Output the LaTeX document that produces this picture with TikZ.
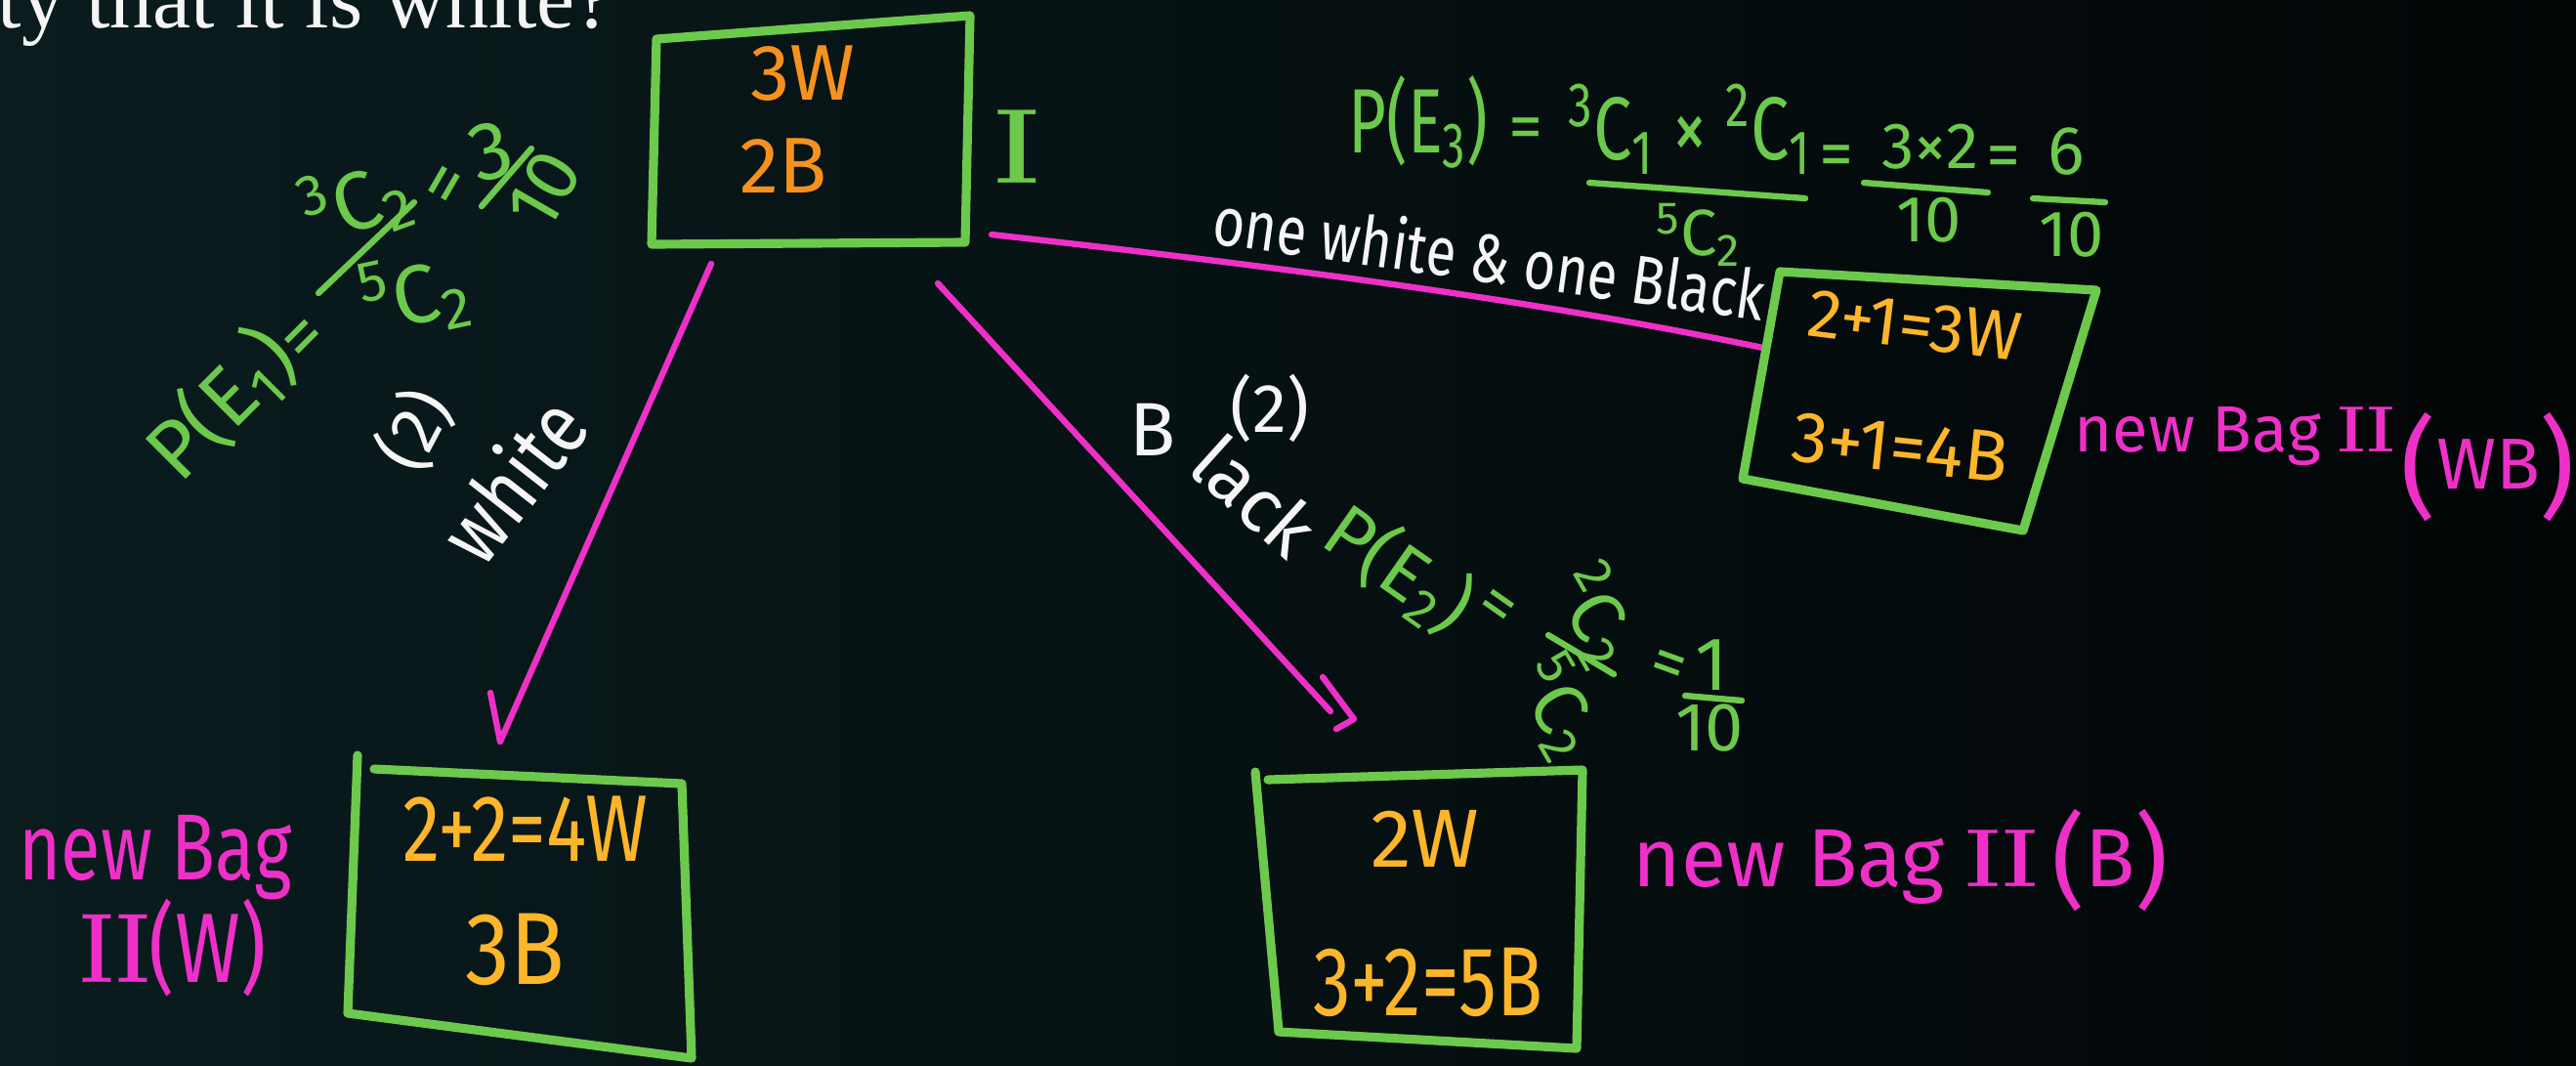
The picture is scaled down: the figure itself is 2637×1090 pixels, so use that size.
\documentclass[tikz,border=0pt]{standalone}
\usepackage{fontspec}
\usepackage{graphicx}
\newfontfamily\hand{Fira Sans}
\newfontfamily\qfont{Liberation Serif}
\newcommand\fsz[1]{\fontsize{#1}{#1}\selectfont}
\newcommand\vst[2][1.25]{\scalebox{1}[#1]{#2}}
\newcommand\rnum[1]{{\rmfamily\bfseries #1}}
\definecolor{hgreen}{RGB}{108,201,76}
\definecolor{hpink}{RGB}{238,48,200}
\definecolor{horange}{RGB}{247,145,30}
\definecolor{hyellow}{RGB}{253,182,42}
\definecolor{hwhite}{RGB}{245,245,245}
\definecolor{bgL}{RGB}{10,28,30}
\definecolor{bgR}{RGB}{2,5,6}
\begin{document}
\begin{tikzpicture}[x=0.01cm,y=-0.01cm,
  boxline/.style={draw=hgreen,line width=2.6pt,line join=round,line cap=round},
  link/.style={draw=hpink,line width=1.8pt,line cap=round,line join=round},
  fbar/.style={draw=hgreen,line width=1.8pt,line cap=round},
  lbl/.style={inner sep=0pt,text=#1}]
\useasboundingbox (0,0) rectangle (2637,1090);
\fill[left color=bgL,right color=bgR] (0,0) rectangle (2637,1090);

% question fragment at top
\node[lbl=hwhite,anchor=base west,font=\qfont\fsz{25}] (q) at (-3,28) {ty that it is white?};

% Bag I
\draw[boxline] (672,40) -- (993,16) -- (988,248) -- (667,250) -- cycle;
\node[lbl=horange,font=\hand\fsz{23}] (b1w) at (822,75) {3W};
\node[lbl=horange,font=\hand\fsz{23}] (b1b) at (802,170) {2B};
\node[lbl=hgreen,font=\fsz{31}] (b1lab) at (1041,150) {\rnum{I}};

% connectors
\coordinate (a1s) at (728,270);
\coordinate (a1e) at (512,759);
\coordinate (a1b) at (502,709);
\draw[link] (a1s) -- (a1e) -- (a1b);
\coordinate (a2s) at (960,290);
\coordinate (a2e) at (1362,728);
\coordinate (a2h1) at (1354,693);
\coordinate (a2h2) at (1386,736);
\coordinate (a2h3) at (1368,746);
\draw[link] (a2s) -- (a2e);
\draw[link] (a2h1) -- (a2h2) -- (a2h3);
\coordinate (l3s) at (1015,240);
\coordinate (l3e) at (1805,356);
\draw[link] (l3s) .. controls (1300,272) and (1560,305) .. (l3e);

% right bag II (WB)
\draw[boxline] (1822,278) -- (2146,297) -- (2071,543) -- (1784,490) -- cycle;
\node[lbl=hyellow,font=\hand\fsz{20},rotate=-7] (b2w) at (1960,333) {2+1=3W};
\node[lbl=hyellow,font=\hand\fsz{21},rotate=-6] (b2b) at (1945,458) {3+1=4B};
\node[lbl=hpink,anchor=base west,font=\hand\fsz{19}] (lab2) at (2123,462) {new Bag \rnum{II}};
\node[lbl=hpink,anchor=base,font=\hand\fsz{21}] (lab2b) at (2547,500) {\raisebox{-5pt}{\fsz{32}(}WB\raisebox{-5pt}{\fsz{32})}};

% bottom-left bag II (W)
\draw[boxline] (366,773) -- (356,1037) -- (708,1083) -- (698,802) -- (383,787);
\node[lbl=hyellow,font=\hand\fsz{22}] (b3w) at (538,848) {\vst{2+2=4W}};
\node[lbl=hyellow,font=\hand\fsz{26}] (b3b) at (527,972) {\vst[1.15]{3B}};
\node[lbl=hpink,anchor=base west,font=\hand\fsz{21}] (lab1a) at (19,900) {\vst[1.3]{new Bag}};
\node[lbl=hpink,anchor=base west,font=\hand\fsz{23}] (lab1b) at (82,1005) {\vst[1.25]{\rnum{II}(W)}};

% bottom-middle bag II (B)
\draw[boxline] (1285,790) -- (1309,1056) -- (1614,1073) -- (1620,788) -- (1298,798);
\node[lbl=hyellow,font=\hand\fsz{24}] (b4w) at (1459,858) {2W};
\node[lbl=hyellow,font=\hand\fsz{22}] (b4b) at (1462,1005) {\vst[1.3]{3+2=5B}};
\node[lbl=hpink,anchor=base west,font=\hand\fsz{24}] (lab3) at (1671,907) {new Bag \rnum{II}\,\raisebox{-3pt}{\fsz{30}(}B\raisebox{-3pt}{\fsz{30})}};

% P(E1)
\node[lbl=hgreen,font=\hand\fsz{24},rotate=45] (pe1) at (226,414) {P(E\textsubscript{1})};
\node[lbl=hgreen,font=\hand\fsz{22},rotate=45] (pe1eq) at (314,350) {=};
\node[lbl=hgreen,font=\hand\fsz{24},rotate=20] (pe1n) at (365,207) {\textsuperscript{3}C\textsubscript{2}};
\draw[fbar] (326,300) -- (424,207);
\node[lbl=hgreen,font=\hand\fsz{24},rotate=12] (pe1d) at (425,302) {\textsuperscript{5}C\textsubscript{2}};
\node[lbl=hgreen,font=\hand\fsz{22},rotate=60] (pe1eq2) at (462,192) {=};
\node[lbl=hgreen,font=\hand\fsz{24},rotate=15] (pe1r3) at (503,155) {3};
\draw[fbar] (493,211) -- (544,152);
\node[lbl=hgreen,font=\hand\fsz{22},rotate=60] (pe1r10) at (557,194) {10};

% (2) white
\node[lbl=hwhite,font=\hand\fsz{20},rotate=62] (w2) at (425,440) {(2)};
\node[lbl=hwhite,font=\hand\fsz{21},rotate=52] (wwhite) at (524,490) {\vst[1.2]{white}};

% one white & one Black
\node[lbl=hwhite,font=\hand\fsz{16},rotate=-8] (owob) at (1525,262) {\vst{one white \& one Black}};

% B (2) lack
\node[lbl=hwhite,font=\hand\fsz{22}] (bB) at (1180,440) {B};
\node[lbl=hwhite,font=\hand\fsz{20}] (bb2) at (1300,418) {(2)};
\node[lbl=hwhite,font=\hand\fsz{22},rotate=-42] (black) at (1285,507) {lack};

% P(E2)
\node[lbl=hgreen,font=\hand\fsz{22},rotate=-35] (pe2) at (1432,582) {P(E\textsubscript{2})};
\node[lbl=hgreen,font=\hand\fsz{20},rotate=-35] (pe2eq) at (1530,624) {=};
\node[lbl=hgreen,font=\hand\fsz{22},rotate=-60] (pe2n) at (1634,630) {\textsuperscript{2}C\textsubscript{2}};
\draw[fbar] (1585,650) -- (1652,690);
\node[lbl=hgreen,font=\hand\fsz{22},rotate=-60] (pe2d) at (1595,724) {\textsuperscript{5}C\textsubscript{2}};
\node[lbl=hgreen,font=\hand\fsz{20},rotate=-20] (pe2eq2) at (1707,685) {=};
\node[lbl=hgreen,font=\hand\fsz{22}] (pe2r1) at (1752,681) {1};
\draw[fbar] (1725,712) -- (1783,717);
\node[lbl=hgreen,font=\hand\fsz{20}] (pe2r10) at (1750,745) {10};

% P(E3)
\node[lbl=hgreen,font=\hand\fsz{19}] (pe3) at (1452,125) {\vst[1.4]{P(E\textsubscript{3})}};
\node[lbl=hgreen,font=\hand\fsz{20}] (pe3eq) at (1562,137) {=};
\node[lbl=hgreen,font=\hand\fsz{20}] (pe3n) at (1730,132) {\vst[1.3]{\textsuperscript{3}C\textsubscript{1} × \textsuperscript{2}C\textsubscript{1}}};
\draw[fbar] (1627,187) -- (1848,203);
\node[lbl=hgreen,font=\hand\fsz{19}] (pe3d) at (1739,240) {\textsuperscript{5}C\textsubscript{2}};
\node[lbl=hgreen,font=\hand\fsz{20}] (pe3eq2) at (1880,165) {=};
\node[lbl=hgreen,font=\hand\fsz{19}] (pe3m) at (1976,150) {3×2};
\draw[fbar] (1908,187) -- (2035,197);
\node[lbl=hgreen,font=\hand\fsz{19}] (pe3t) at (1975,225) {10};
\node[lbl=hgreen,font=\hand\fsz{20}] (pe3eq3) at (2051,166) {=};
\node[lbl=hgreen,font=\hand\fsz{20}] (pe3s) at (2115,155) {6};
\draw[fbar] (2081,203) -- (2155,207);
\node[lbl=hgreen,font=\hand\fsz{19}] (pe3t2) at (2121,240) {10};
\end{tikzpicture}
\end{document}
